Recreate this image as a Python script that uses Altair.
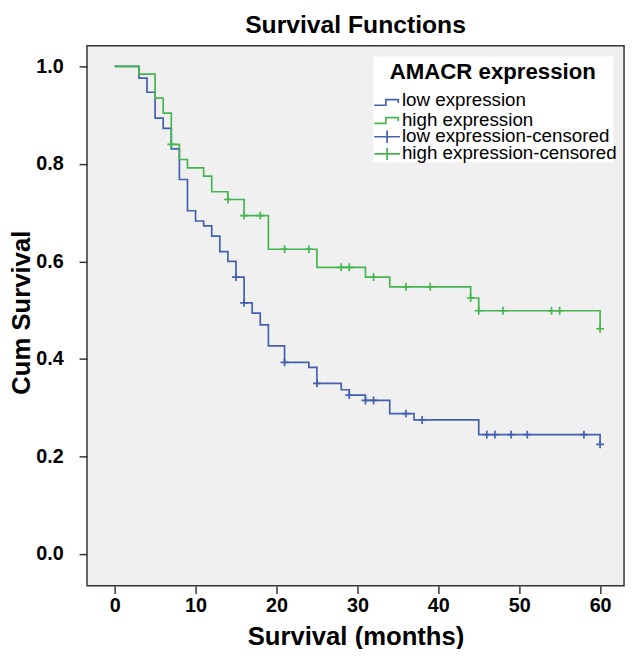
import altair as alt
import pandas as pd

# ---- data ----
low_times = [0, 3, 4, 5, 6, 7, 8, 9, 10, 11, 12, 13, 14, 15, 16, 17, 18, 19, 21, 24, 25, 28, 29, 31, 34, 37, 45, 60]
low_surv = [1.0, 0.976, 0.947, 0.894, 0.873, 0.831, 0.768, 0.704, 0.683, 0.673, 0.652, 0.620, 0.600, 0.568,
            0.515, 0.494, 0.470, 0.427, 0.393, 0.383, 0.350, 0.337, 0.326, 0.315, 0.288, 0.275, 0.245, 0.225]
low_censored = [15, 16, 21, 25, 29, 31, 32, 36, 38, 46, 47, 49, 51, 58, 60]

high_times = [0, 3, 5, 6, 7, 8, 9, 11, 12, 14, 16, 19, 25, 31, 34, 44, 45, 60]
high_surv = [1.0, 0.984, 0.935, 0.904, 0.840, 0.809, 0.792, 0.775, 0.743, 0.727, 0.694, 0.625, 0.588,
             0.568, 0.548, 0.525, 0.499, 0.462]
high_censored = [7, 14, 16, 18, 21, 24, 28, 29, 32, 36, 39, 44, 45, 48, 54, 55, 60]

x_ticks = [0, 10, 20, 30, 40, 50, 60]
y_ticks = [0.0, 0.2, 0.4, 0.6, 0.8, 1.0]
legend_labels = ["low expression", "high expression", "low expression-censored", "high expression-censored"]

BLUE = "#4260AE"
GREEN = "#45B54F"
FONT = "Liberation Sans"


def surv_at(times, surv, t):
    val = surv[0]
    for ti, si in zip(times, surv):
        if ti <= t:
            val = si
    return val


line_rows = []
for t, s in zip(low_times, low_surv):
    line_rows.append({"time": t, "surv": s, "group": "low"})
for t, s in zip(high_times, high_surv):
    line_rows.append({"time": t, "surv": s, "group": "high"})
lines_df = pd.DataFrame(line_rows)

cens_rows = []
for t in low_censored:
    cens_rows.append({"time": t, "surv": surv_at(low_times, low_surv, t), "group": "low"})
for t in high_censored:
    cens_rows.append({"time": t, "surv": surv_at(high_times, high_surv, t), "group": "high"})
cens_df = pd.DataFrame(cens_rows)

W, H = 544, 547

x_enc = alt.X(
    "time:Q",
    scale=alt.Scale(domain=[-3.42, 62.96], nice=False, zero=False),
    axis=alt.Axis(
        values=x_ticks, title="Survival (months)", grid=False, domain=False,
        tickSize=8, tickWidth=1.5, tickColor="#333333",
        labelFont=FONT, labelFontSize=20, labelFontWeight="bold", labelColor="black", labelPadding=2,
        titleFont=FONT, titleFontSize=26, titleFontWeight="bold", titleColor="black",
        titleX=W / 2, titleY=60, titleBaseline="alphabetic", titleAlign="center",
    ),
)
y_enc = alt.Y(
    "surv:Q",
    scale=alt.Scale(domain=[-0.0648, 1.0425], nice=False, zero=False),
    axis=alt.Axis(
        values=y_ticks, format=".1f", title="Cum Survival", grid=False, domain=False,
        tickSize=8, tickWidth=1.5, tickColor="#333333",
        labelFont=FONT, labelFontSize=20, labelFontWeight="bold", labelColor="black", labelPadding=16,
        titleFont=FONT, titleFontSize=26, titleFontWeight="bold", titleColor="black",
        titleX=-66, titleY=270, titleAngle=-90, titleBaseline="middle", titleAlign="center",
    ),
)
color_enc = alt.Color("group:N", scale=alt.Scale(domain=["low", "high"], range=[BLUE, GREEN]), legend=None)

lines = alt.Chart(lines_df).mark_line(interpolate="step-after", strokeWidth=1.7).encode(
    x=x_enc, y=y_enc, color=color_enc
)
cens = alt.Chart(cens_df).mark_point(
    shape="M-1,0H1M0,-1V1", size=64, filled=False, strokeWidth=1.7, opacity=1
).encode(x=x_enc, y=y_enc, color=color_enc)

one = pd.DataFrame({"a": [0]})

title = alt.Chart(one).mark_text(
    text="Survival Functions", font=FONT, fontSize=25, fontWeight="bold", color="black",
    align="center", baseline="alphabetic"
).encode(x=alt.value(W / 2), y=alt.value(-13))

legend_box = alt.Chart(one).mark_rect(fill="white").encode(
    x=alt.value(290), x2=alt.value(533), y=alt.value(11), y2=alt.value(118)
)
legend_title = alt.Chart(one).mark_text(
    text="AMACR expression", font=FONT, fontSize=22.5, fontWeight="bold", color="black",
    align="center", baseline="alphabetic"
).encode(x=alt.value(411), y=alt.value(34))

step_path = "M-1,0.22H-0.1V-0.22H0.87V0.05"
plus_path = "M-1,0H1M0,-0.48V0.48"
sym_specs = [
    (step_path, BLUE, 57.5),
    (step_path, GREEN, 75.8),
    (plus_path, BLUE, 92.3),
    (plus_path, GREEN, 109.7),
]
label_y = [61, 81, 98, 115]

legend_layers = [legend_box, legend_title]
for (path, col, sy), lab, ly in zip(sym_specs, legend_labels, label_y):
    legend_layers.append(
        alt.Chart(one).mark_point(shape=path, size=676, filled=False, strokeWidth=1.7, color=col, opacity=1)
        .encode(x=alt.value(304), y=alt.value(sy))
    )
    legend_layers.append(
        alt.Chart(one).mark_text(text=lab, font=FONT, fontSize=19, color="black", align="left",
                                 baseline="alphabetic")
        .encode(x=alt.value(319), y=alt.value(ly))
    )

chart = alt.layer(lines, cens, title, *legend_layers).properties(
    width=W, height=H,
    padding={"left": 80, "top": 34, "right": 4, "bottom": 60},
    autosize=alt.AutoSizeParams(type="none"),
).configure_view(fill="#F0F0F0", stroke="#333333", strokeWidth=1.5)

chart.save("out.html", embed_options={"renderer": "svg", "actions": False})
